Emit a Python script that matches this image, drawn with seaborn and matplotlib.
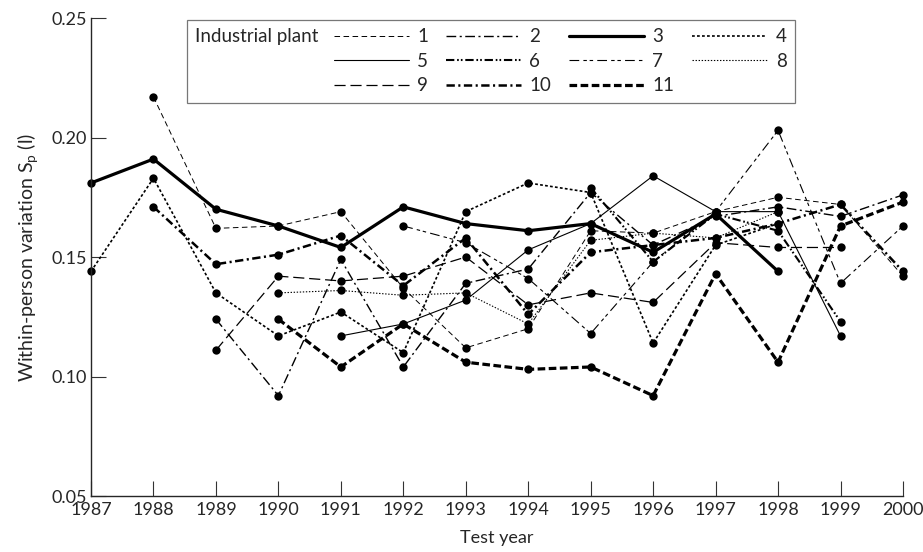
import numpy as np
import pandas as pd
import seaborn as sns
import matplotlib
matplotlib.use("Agg")
from matplotlib import pyplot as plt
from matplotlib.lines import Line2D
from matplotlib.offsetbox import HPacker

nan = np.nan
years = list(range(1987, 2001))
# within-person variation per plant, one value per test year (nan = not tested)
p1 = [nan, .217, .162, .163, .169, .137, .112, .120, .161, .160, .169, .175, .172, .142]
p2 = [nan, nan, .124, .092, .149, .104, .139, .145, .177, .155, .167, .171, .167, .176]
p3 = [.181, .191, .170, .163, .154, .171, .164, .161, .164, .152, .168, .144, nan, nan]
p4 = [.144, .183, .135, .117, .127, .110, .169, .181, .177, .114, .155, .164, nan, nan]
p5 = [nan, nan, nan, nan, .117, .122, .132, .153, .164, .184, .169, .169, .117, nan]
p6 = [nan, nan, nan, nan, nan, nan, nan, nan, .179, .148, .168, .161, .123, nan]
p7 = [nan, nan, nan, nan, nan, .163, .156, .141, .118, .148, .169, .203, .139, .163]
p8 = [nan, nan, nan, .135, .136, .134, .135, .122, .157, .160, .158, .169, nan, nan]
p9 = [nan, nan, .111, .142, .140, .142, .150, .130, .135, .131, .156, .154, .154, nan]
p10 = [nan, .171, .147, .151, .159, .138, .158, .126, .152, .155, .158, .164, .172, .144]
p11 = [nan, nan, nan, .124, .104, .122, .106, .103, .104, .092, .143, .106, .163, .173]
plants = ["1", "2", "3", "4", "5", "6", "7", "8", "9", "10", "11"]
series = [p1, p2, p3, p4, p5, p6, p7, p8, p9, p10, p11]

rows = []
for name, vals in zip(plants, series):
    for y, v in zip(years, vals):
        if not np.isnan(v):
            rows.append({"plant": name, "year": y, "sp": v})
df = pd.DataFrame(rows)

# line styles (dash patterns in points)
dashes = {"1": (4, 2.5), "2": (7, 2.5, 1.5, 2.5), "3": "", "4": (2, 1.6),
          "5": "", "6": (6, 2, 1.2, 1.5, 1.2, 2), "7": (7, 3, 2.5, 2, 2.5, 3),
          "8": (1, 1.2), "9": (8, 3.5), "10": (6, 2.5, 1.5, 2.5), "11": (5.5, 2.5)}
widths = {"1": 0.7, "2": 1.0, "3": 2.3, "4": 1.2, "5": 0.8, "6": 1.5,
          "7": 0.8, "8": 0.8, "9": 0.9, "10": 1.8, "11": 2.3}

sns.set_style("ticks")
plt.rcParams["font.family"] = ["Lato", "DejaVu Sans"]
plt.rcParams["mathtext.fontset"] = "custom"
plt.rcParams["mathtext.rm"] = "Lato"
plt.rcParams["mathtext.it"] = "Lato"
plt.rcParams["lines.scale_dashes"] = False

fig = plt.figure(figsize=(9.23, 5.52), dpi=100)
ax = fig.add_axes([0.0986, 0.1014, 0.8797, 0.8659])

sns.lineplot(data=df, x="year", y="sp", style="plant", size="plant",
             style_order=plants, size_order=plants, dashes=dashes, sizes=widths,
             markers={k: "o" for k in plants}, markersize=6, markeredgewidth=0,
             color="black", legend=False, ax=ax, clip_on=False, estimator=None)

ax.set_xlim(1987, 2000)
ax.set_ylim(0.05, 0.25)
ax.set_xticks(years)
ax.set_yticks([0.05, 0.10, 0.15, 0.20, 0.25])
ax.set_yticklabels(["0.05", "0.10", "0.15", "0.20", "0.25"])
ax.tick_params(axis="both", direction="in", length=11, width=0.8, labelsize=13,
               color="#333333", pad=3)
ax.tick_params(axis="x", pad=4)
for s in ["top", "right"]:
    ax.spines[s].set_visible(False)
for s in ["left", "bottom"]:
    ax.spines[s].set_linewidth(1.0)
ax.set_xlabel("Test year", fontsize=13, labelpad=9)
ax.set_ylabel(r"Within-person variation S$_\mathrm{p}$ (l)", fontsize=14, labelpad=8)

order = ["1", "5", "9", "2", "6", "10", "3", "7", "11", "4", "8"]
handles = []
for k in order:
    if dashes[k] == "":
        h = Line2D([], [], color="black", lw=widths[k], ls="-")
    else:
        h = Line2D([], [], color="black", lw=widths[k], dashes=dashes[k])
    handles.append(h)
leg = ax.legend(handles, order, ncol=4, title="Industrial plant", loc="upper left",
                bbox_to_anchor=(0.118, 0.996), borderaxespad=0, frameon=True,
                fancybox=False, edgecolor="#555555", handlelength=4.0,
                handletextpad=0.45, columnspacing=0.95, labelspacing=0.4,
                borderpad=0.45, fontsize=13.5, title_fontsize=13.5)
leg.get_frame().set_linewidth(0.9)
# put the legend title to the left of the entries instead of on top
fs = leg._fontsize
box = HPacker(pad=leg.borderpad * fs, sep=0.8 * fs, align="top",
              children=[leg._legend_title_box, leg._legend_handle_box])
box.set_figure(fig)
box.axes = ax
leg._legend_box = box
leg._set_loc(leg._loc)

fig.savefig("out.png", dpi=100)
